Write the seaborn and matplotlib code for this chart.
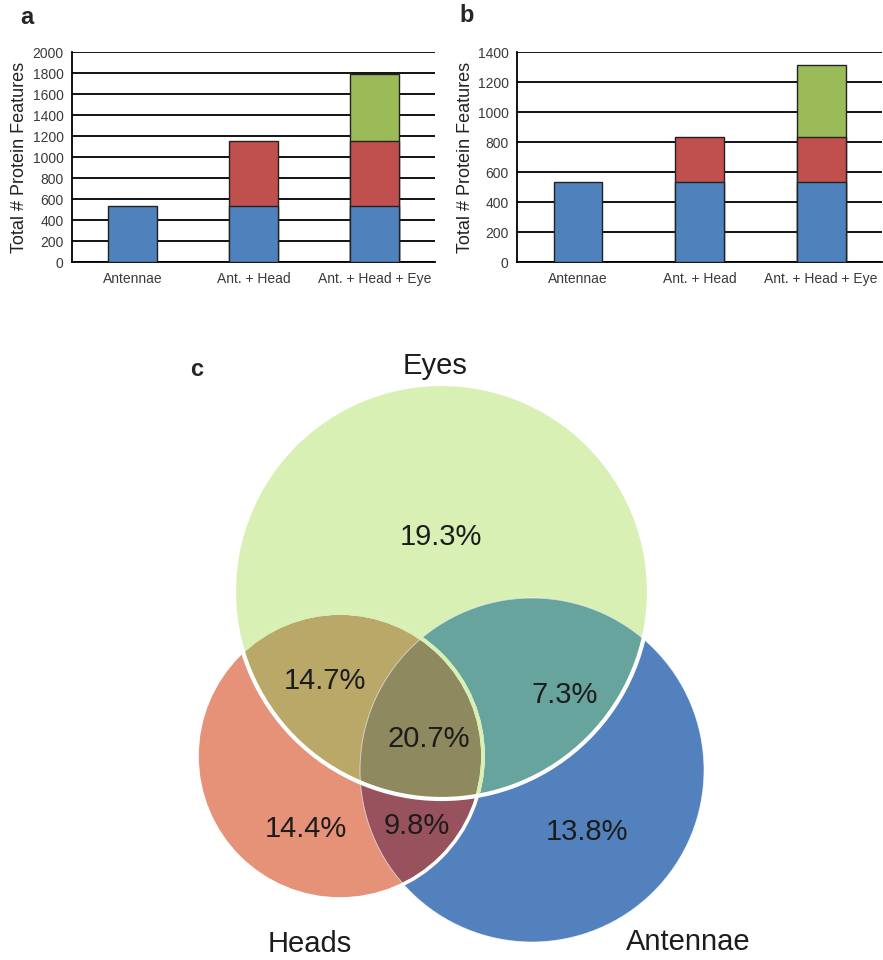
import numpy as np
import pandas as pd
import matplotlib
matplotlib.use("Agg")
import matplotlib.pyplot as plt
from matplotlib.patches import Circle, Polygon
import seaborn as sns

# ---- data -------------------------------------------------------------
categories = ["Antennae", "Ant. + Head", "Ant. + Head + Eye"]
tissues = ["Antennae", "Head", "Eye"]
# protein features contributed by each added tissue
added_a = [537, 616, 642]
added_b = [535, 298, 485]

venn_sets = ["Eyes", "Heads", "Antennae"]
venn_regions = ["E", "H", "A", "EH", "EA", "HA", "EHA"]
venn_percent = [19.3, 14.4, 13.8, 14.7, 7.3, 9.8, 20.7]

# ---- style ------------------------------------------------------------
sns.set_style("white")
plt.rcParams["font.family"] = ["Liberation Sans", "DejaVu Sans"]

layer_colors = {"Antennae": "#4f81bd", "Head": "#c0504d", "Eye": "#9bbb59"}
region_colors = {"E": "#d8f0b4", "H": "#e59278", "A": "#5281bd",
                 "EH": "#baa869", "EA": "#67a49e", "HA": "#98525e",
                 "EHA": "#8f8960"}

W, H = 883, 960
fig = plt.figure(figsize=(W / 100, H / 100), dpi=100)


def stacked_panel(rect, added, ymax, letter, letter_xy):
    ax = fig.add_axes(rect)
    rows = []
    for i, cat in enumerate(categories):
        total = 0
        for j in range(i + 1):
            total += added[j]
            rows.append(dict(category=cat, layer=tissues[j], top=total))
    df = pd.DataFrame(rows)
    # tallest layer first, lower layers drawn over it
    for layer in reversed(tissues):
        sub = df[df["layer"] == layer]
        sns.barplot(data=sub, x="category", y="top", order=categories,
                    color=layer_colors[layer], saturation=1, width=0.4,
                    edgecolor="#222222", linewidth=1.0, errorbar=None,
                    ax=ax, zorder=3)
    ax.set_xlim(-0.5, 2.5)
    ax.set_ylim(0, ymax * 1.002)
    ax.set_yticks(np.arange(0, ymax + 1, 200))
    ax.yaxis.grid(True, color="black", linewidth=1.3)
    ax.set_axisbelow(True)
    ax.set_xticks([0, 1, 2], labels=categories)
    ax.set_xticks([0.5, 1.5, 2.5], minor=True)
    ax.tick_params(axis="x", which="major", length=0, pad=7,
                   labelsize=10, labelcolor="#3a3a3a")
    ax.tick_params(axis="x", which="minor", length=4, width=1.2,
                   color="black", direction="out")
    ax.tick_params(axis="y", length=4, width=1.2, color="black",
                   direction="out", labelsize=10, labelcolor="#3a3a3a", pad=2)
    for s in ("top", "right"):
        ax.spines[s].set_visible(False)
    for s in ("left", "bottom"):
        ax.spines[s].set_color("black")
        ax.spines[s].set_linewidth(1.3)
    ax.set_xlabel("")
    ax.set_ylabel("Total # Protein Features", fontsize=13, color="#222222",
                  labelpad=3)
    fig.text(letter_xy[0] / W, 1 - letter_xy[1] / H, letter, fontsize=17,
             fontweight="bold", ha="center", va="center")
    return ax


stacked_panel([72 / W, 1 - 262 / H, 363 / W, 210 / H], added_a, 2000, "a", (27, 18))
stacked_panel([517 / W, 1 - 262 / H, 365 / W, 210 / H], added_b, 1400, "b", (467, 15))

# ---- Venn diagram -------------------------------------------------------
axc = fig.add_axes([0, 0, 1, 630 / H])
axc.set_xlim(0, W)
axc.set_ylim(H, H - 630)
axc.axis("off")

# circle geometry (centre x, centre y, radius) in figure pixels
geom = {"E": (441.5, 591.5, 207.5), "H": (340.0, 756.0, 143.0),
        "A": (532.0, 770.0, 172.0)}


def convex_region(keys, n=2000):
    pts = []
    t = np.linspace(0, 2 * np.pi, n, endpoint=False)
    for k in keys:
        cx, cy, r = geom[k]
        p = np.column_stack([cx + r * np.cos(t), cy + r * np.sin(t)])
        keep = np.ones(len(p), bool)
        for o in keys:
            if o == k:
                continue
            ox, oy, orad = geom[o]
            keep &= np.hypot(p[:, 0] - ox, p[:, 1] - oy) <= orad + 1e-9
        pts.append(p[keep])
    pts = np.vstack(pts)
    c = pts.mean(axis=0)
    order = np.argsort(np.arctan2(pts[:, 1] - c[1], pts[:, 0] - c[0]))
    return pts[order]


for region in venn_regions:
    keys = list(region)
    if len(keys) == 1:
        cx, cy, r = geom[keys[0]]
        patch = Circle((cx, cy), r, facecolor=region_colors[region],
                       edgecolor="none", zorder=1)
    else:
        patch = Polygon(convex_region(keys), closed=True,
                        facecolor=region_colors[region], edgecolor="none",
                        zorder=len(keys))
    axc.add_patch(patch)

# outlines
cx, cy, r = geom["A"]
axc.add_patch(Circle((cx, cy), r, fill=False, edgecolor="white",
                     linewidth=0.6, alpha=0.7, zorder=5))
cx, cy, r = geom["H"]
axc.add_patch(Circle((cx, cy), r, fill=False, edgecolor="white",
                     linewidth=2.6, zorder=6))
ex, ey, er = geom["E"]
eyes_clip = Circle((ex, ey), er, transform=axc.transData)
tinted = Circle((cx, cy), r, fill=False, edgecolor=region_colors["E"],
                linewidth=2.8, zorder=7)
axc.add_patch(tinted)
tinted.set_clip_path(eyes_clip)
axc.add_patch(Circle((ex, ey), er, fill=False, edgecolor="white",
                     linewidth=3.0, zorder=8))

label_xy = {"E": (441, 537), "H": (306, 829), "A": (587, 832),
            "EH": (325, 681), "EA": (565, 695), "HA": (417, 826),
            "EHA": (429, 739)}
for region, pct in zip(venn_regions, venn_percent):
    x, y = label_xy[region]
    axc.text(x, y, f"{pct:.1f}%", ha="center", va="center", fontsize=21,
             color="#1c1c1c", zorder=10)

set_xy = {"Eyes": (435, 366), "Heads": (310, 944), "Antennae": (688, 942)}
for name in venn_sets:
    x, y = set_xy[name]
    axc.text(x, y, name, ha="center", va="center", fontsize=21,
             color="#1c1c1c", zorder=10)
axc.text(197, 370, "c", ha="center", va="center", fontsize=17,
         fontweight="bold")

fig.savefig("out.png", dpi=100)
